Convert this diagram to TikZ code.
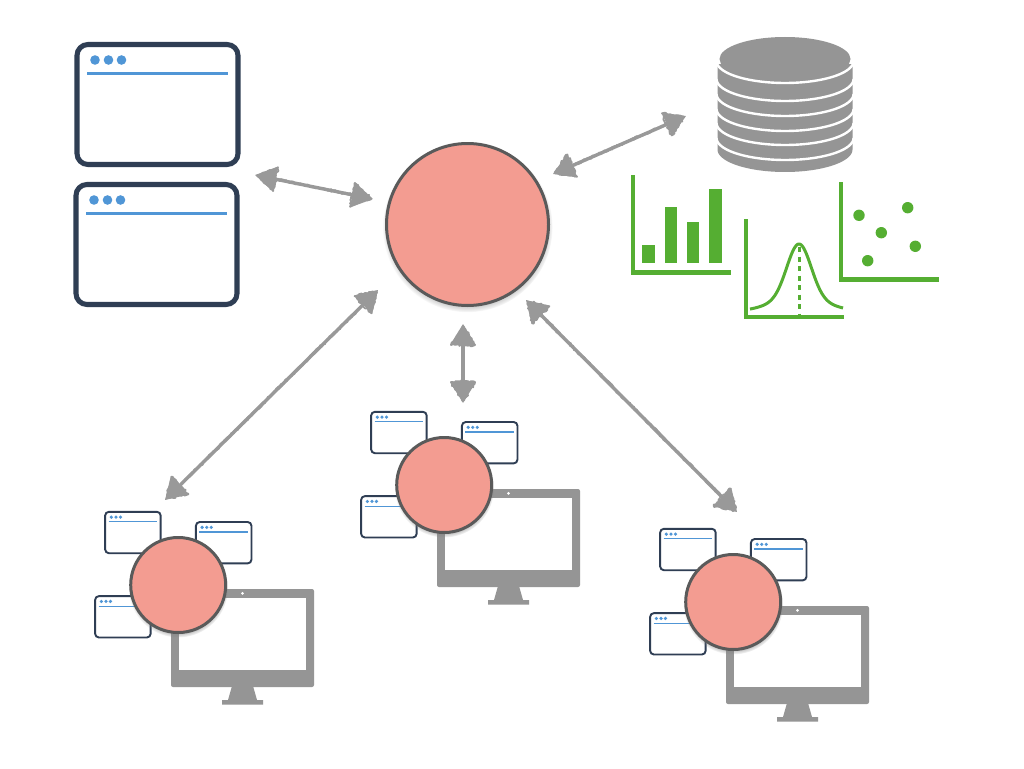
\documentclass[tikz,border=0pt]{standalone}
\usetikzlibrary{arrows.meta,calc,shadows,fadings,decorations.pathmorphing}
\definecolor{framec}{HTML}{2F3E54}
\definecolor{bluec}{HTML}{5096D6}
\definecolor{greenc}{HTML}{55AE32}
\definecolor{grayc}{HTML}{959595}
\definecolor{arrowc}{HTML}{999999}
\definecolor{salmon}{HTML}{F39C91}
\definecolor{ringc}{HTML}{5A5A5A}
\tikzset{
  agent/.style={circle,draw=ringc,fill=salmon,inner sep=0pt,
    circular drop shadow={shadow xshift=0pt,shadow yshift=-2.5pt,shadow scale=1.05,opacity=.8}},
  winframe/.style={draw=framec,fill=white,inner sep=0pt,outer sep=0pt},
  bluedot/.style={fill=bluec,draw=none},
  axisline/.style={draw=greenc,line width=4.4pt,line cap=butt,line join=miter},
  bar/.style={fill=greenc,draw=none},
  greendot/.style={fill=greenc,draw=none},
  monfill/.style={fill=grayc,draw=none,inner sep=0pt,outer sep=0pt,rectangle},
  link/.style={draw=arrowc,line width=3.4pt,<->,>={Triangle[length=21pt,width=25pt]}},
  rough/.style={draw=arrowc,line width=1.8pt,line join=round,decorate,decoration={random steps,segment length=1.6pt,amplitude=1.3pt}},
}
% window: name, centre x, centre y, scale
\newcommand{\appwin}[4]{%
  \pgfmathsetmacro{\ww}{161*#4}\pgfmathsetmacro{\wh}{120*#4}%
  \pgfmathsetmacro{\wl}{4.8*#4+.25}\pgfmathsetmacro{\wr}{11*#4}%
  \node[winframe,minimum width=\ww pt,minimum height=\wh pt,line width=\wl pt,rounded corners=\wr pt] (#1) at (#2,#3) {};
  \foreach \d in {-62.5,-49,-36}{%
    \fill[bluedot] ({#2+\d*#4},{#3-44.5*#4}) circle[radius=4.6*#4+.2];}
  \draw[bluec,line width={2.4*#4+.2}] ({#2-70.5*#4},{#3-31*#4}) -- ({#2+70.5*#4},{#3-31*#4});
}
% workstation: name, shift
\newcommand{\station}[3]{%
  \begin{scope}[shift={(#2,#3)}]
    \appwin{#1w1}{132.9}{532.5}{.345}
    \appwin{#1w2}{223.7}{542.7}{.345}
    \appwin{#1w3}{122.9}{616.8}{.345}
    \node[monfill,minimum width=143pt,minimum height=98pt,rounded corners=2pt] (#1mon) at (242.5,638) {};
    \node[fill=white,draw=none,inner sep=0pt,minimum width=127pt,minimum height=72pt] (#1scr) at (242.5,634) {};
    \fill[white] (242.5,593.3) circle[radius=1.5];
    \fill[grayc] (232,686) -- (253,686) -- (257,700) -- (263,700) -- (263,704.5) -- (222,704.5) -- (222,700) -- (228,700) -- cycle;
    \node[agent,line width=3pt,minimum size=95pt] (#1c) at (178.2,585) {};
  \end{scope}
}
% double arrow: name, ax, ay, bx, by
\newcommand{\biarrow}[5]{%
  \coordinate (#1a) at (#2,#3);
  \coordinate (#1b) at (#4,#5);
  \draw[link] (#1a) -- (#1b);
  \draw[rough] ($(#1a)!20pt!(#1b)$) -- ($(#1b)!20pt!(#1a)$);
  \draw[rough] ($(#1a)!2pt!(#1b)$) -- ($(#1a)!21pt!(#1b)!12pt!90:(#1b)$) -- ($(#1a)!21pt!(#1b)!12pt!-90:(#1b)$) -- cycle;
  \draw[rough] ($(#1b)!2pt!(#1a)$) -- ($(#1b)!21pt!(#1a)!12pt!90:(#1a)$) -- ($(#1b)!21pt!(#1a)!12pt!-90:(#1a)$) -- cycle;
}
\begin{document}
\begin{tikzpicture}[x=1pt,y=-1pt]
\pgfmathsetseed{42}
\useasboundingbox[fill=white] (0,0) rectangle (1024,768);

% big windows
\appwin{winA}{157.5}{104.5}{1}
\appwin{winB}{156.5}{244.5}{1}

% database
\fill[grayc] (717.5,64)
  -- plot[domain=180:360,samples=50] ({785+67.5*cos(\x)},{149.5-22.5*sin(\x)})
  -- (852.5,64) -- cycle;
\foreach \b in {61,79,94,109,123,138}{
  \draw[white,line width=2.4pt] plot[domain=180:360,samples=50] ({785+68.5*cos(\x)},{\b-22*sin(\x)});
}
\fill[grayc] (785,59) ellipse[x radius=65.5,y radius=22];

% bar chart
\draw[axisline] (633.2,175) -- (633.2,272.5) -- (731,272.5);
\fill[bar] (642.3,245) rectangle (655,262.7);
\fill[bar] (664.7,206.7) rectangle (677,262.7);
\fill[bar] (687,221.7) rectangle (699.3,262.7);
\fill[bar] (709,189) rectangle (721.7,262.7);

% bell curve
\draw[greenc,line width=3pt,dash pattern=on 5pt off 4.5pt] (799,247) -- (799,315);
\draw[axisline] (746.2,219) -- (746.2,316.7) -- (844,316.7);
\draw[greenc,line width=3pt] plot[domain=-49:44,samples=80,smooth]
  ({799+\x},{312-68*(.8*exp(-\x*\x/288)+.2*exp(-\x*\x/1568))});

% scatter plot
\draw[axisline] (841.2,182) -- (841.2,279.5) -- (939,279.5);
\foreach \px/\py in {859/215.3,907.7/207.7,881.3/232.7,915.3/246.3,867.7/260.7}{
  \fill[greendot] (\px,\py) circle[radius=5.7];
}

% workstations
\station{s}{0}{0}
\station{t}{266}{-100}
\station{u}{555}{17}

% hub
\node[agent,line width=3pt,minimum size=162pt] (hub) at (467.5,224.5) {};

% connectors
\biarrow{l}{255}{175}{373}{199}
\biarrow{d}{553}{174}{686}{116}
\biarrow{s}{378}{290}{165}{500}
\biarrow{m}{463}{324}{463}{403}
\biarrow{r}{526}{300}{737}{512}
\end{tikzpicture}
\end{document}
